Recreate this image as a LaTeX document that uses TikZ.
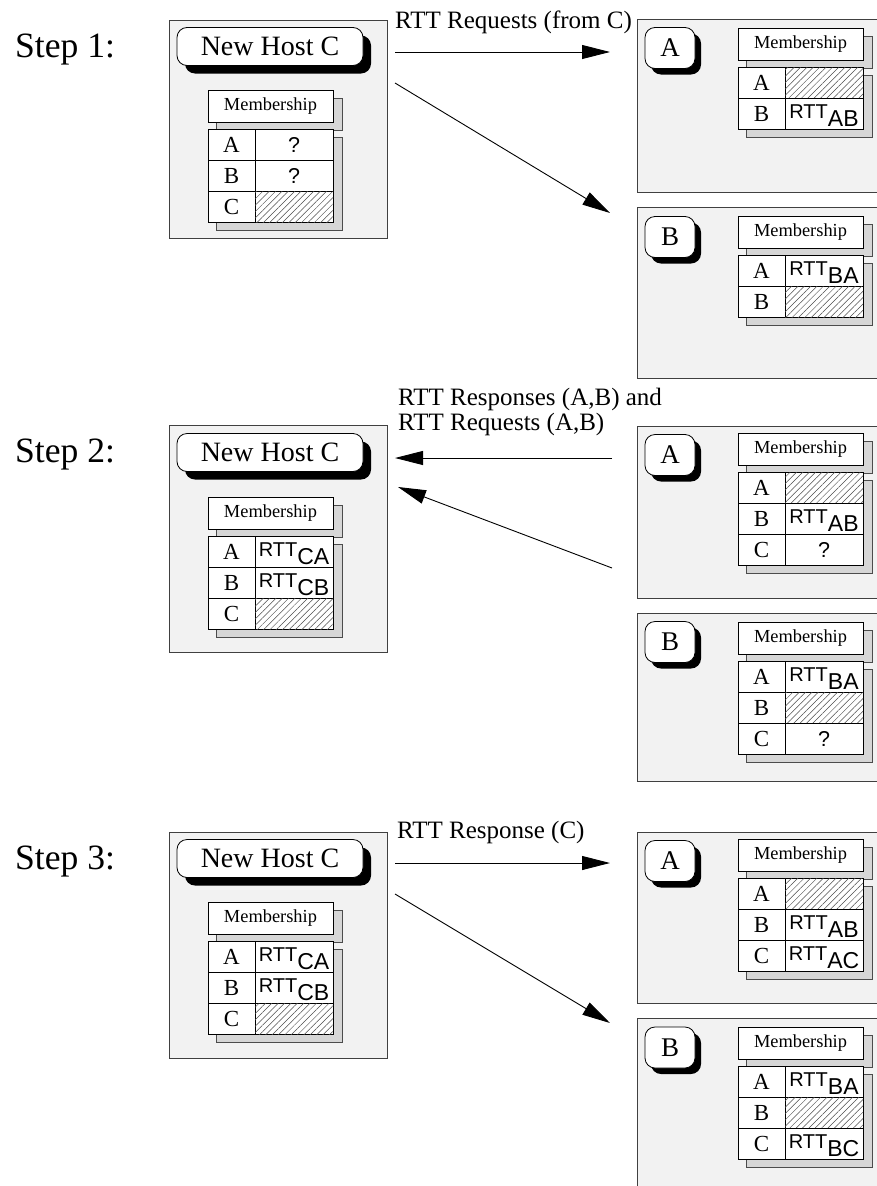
\documentclass[tikz,border=0pt]{standalone}
\usepackage{fontspec}
\setmainfont{Liberation Serif}
\newfontfamily\helv{Liberation Sans}
\usetikzlibrary{arrows.meta,patterns.meta,shadows}

\definecolor{panelfill}{gray}{0.95}
\definecolor{paneledge}{gray}{0.25}
\definecolor{shade}{gray}{0.84}
\definecolor{hatchcol}{gray}{0.3}

\newcommand\fsz[1]{\fontsize{#1}{#1}\selectfont}
% RTT with its (oversized) host-pair subscript
\newcommand\rtt[1]{\raisebox{-4.5pt}[10pt][10pt]{\helv\fsz{20}RTT\raisebox{-8pt}{\fsz{23}#1}}}

\tikzset{
  panel/.style={draw=paneledge, line width=0.8pt, fill=panelfill},
  shadowbox/.style={draw=black!70, line width=0.5pt, fill=shade},
  header/.style={draw, line width=0.7pt, fill=white, minimum width=125pt,
    minimum height=32pt, inner sep=0pt, font=\fsz{18.4}},
  cellL/.style={draw, line width=0.7pt, fill=white, minimum width=47pt,
    minimum height=31pt, inner sep=0pt, font=\fsz{23}},
  cellR/.style={draw, line width=0.7pt, fill=white, minimum width=78pt,
    minimum height=31pt, inner sep=0pt, font=\helv\fsz{21.5}},
  hatched/.style={fill=white, postaction={pattern={Lines[angle=45,distance=4.5pt,line width=0.5pt]},
    pattern color=hatchcol}},
  plain/.style={},
  hostlabel/.style={draw, line width=0.8pt, fill=white, rounded corners=10pt,
    minimum width=186pt, minimum height=38pt, inner sep=0pt, font=\fsz{28},
    drop shadow={shadow xshift=8pt, shadow yshift=-8pt, fill=black, opacity=1}},
  peerlabel/.style={draw, line width=0.8pt, fill=white, rounded corners=10pt,
    minimum width=50pt, minimum height=41pt, inner sep=0pt, font=\fsz{27},
    drop shadow={shadow xshift=6pt, shadow yshift=-6pt, fill=black, opacity=1}},
  msg/.style={line width=0.9pt, -{Triangle[length=28pt,width=14pt]}},
  steplabel/.style={anchor=base west, inner sep=0pt, font=\fsz{35.6}},
  msglabel/.style={anchor=base west, inner sep=0pt, font=\fsz{25}},
}

% membership table: name, x and y of header corner, number of rows, rows
\newcommand\memtable[5]{%
  \pgfmathsetmacro\mtTop{#3+39.5}%
  \pgfmathsetmacro\mtBot{#3+39.5+31*#4}%
  \draw[shadowbox] (#2+8,#3+8) rectangle (#2+134,#3+40);
  \draw[shadowbox] (#2+8,\mtTop+8) rectangle (#2+134,\mtBot+8);
  \node[header] (#1-head) at (#2+62.5,#3+16) {Membership};
  \foreach \k/\s/\v [count=\i] in {#5}{
    \node[cellL] (#1-\k) at (#2+23.5,\mtTop+31*\i-15.5) {\k};
    \node[cellR,\s] (#1-\k-val) at (#2+86,\mtTop+31*\i-15.5) {\v};
  }%
}

\begin{document}
\begin{tikzpicture}[x=1pt,y=-1pt]
\useasboundingbox (0,0) rectangle (877,1186);
\clip (0,0) rectangle (877,1186);

% ---------------- Step 1 ----------------
\node[steplabel] (step1) at (15,57) {Step 1:};
\draw[panel] (169,20) rectangle (387,238);
\node[hostlabel] (c1) at (270,46.5) {New Host C};
\memtable{c1t}{208}{90}{3}{A/plain/?,B/plain/?,C/hatched/{}}
\draw[panel] (637,19) rectangle (900,192);
\node[peerlabel] (a1) at (670,48) {A};
\memtable{a1t}{738}{28}{2}{A/hatched/{},B/plain/\rtt{AB}}
\draw[panel] (637,207) rectangle (900,378);
\node[peerlabel] (b1) at (670,237) {B};
\memtable{b1t}{738}{216}{2}{A/plain/\rtt{BA},B/hatched/{}}
\node[msglabel] (m1) at (395,28) {RTT Requests (from C)};
\coordinate (s1a) at (395,52);  \coordinate (e1a) at (610,52);
\coordinate (s1b) at (395,83);  \coordinate (e1b) at (610,213);
\draw[msg] (s1a) -- (e1a);
\draw[msg] (s1b) -- (e1b);

% ---------------- Step 2 ----------------
\node[steplabel] (step2) at (15,462) {Step 2:};
\draw[panel] (169,425) rectangle (387,652);
\node[hostlabel] (c2) at (270,452.5) {New Host C};
\memtable{c2t}{208}{497}{3}{A/plain/\rtt{CA},B/plain/\rtt{CB},C/hatched/{}}
\draw[panel] (637,426) rectangle (900,598);
\node[peerlabel] (a2) at (670,455) {A};
\memtable{a2t}{738}{433}{3}{A/hatched/{},B/plain/\rtt{AB},C/plain/?}
\draw[panel] (637,613) rectangle (900,781);
\node[peerlabel] (b2) at (670,642) {B};
\memtable{b2t}{738}{622}{3}{A/plain/\rtt{BA},B/hatched/{},C/plain/?}
\node[msglabel] (m2a) at (398,405) {RTT Responses (A,B) and};
\node[msglabel] (m2b) at (398,430) {RTT Requests (A,B)};
\coordinate (s2a) at (612,458);  \coordinate (e2a) at (395,458);
\coordinate (s2b) at (612,568);  \coordinate (e2b) at (398,487);
\draw[msg] (s2a) -- (e2a);
\draw[msg] (s2b) -- (e2b);

% ---------------- Step 3 ----------------
\node[steplabel] (step3) at (15,869) {Step 3:};
\draw[panel] (169,832) rectangle (387,1058);
\node[hostlabel] (c3) at (270,858.5) {New Host C};
\memtable{c3t}{208}{902}{3}{A/plain/\rtt{CA},B/plain/\rtt{CB},C/hatched/{}}
\draw[panel] (637,832) rectangle (900,1003);
\node[peerlabel] (a3) at (670,861) {A};
\memtable{a3t}{738}{839}{3}{A/hatched/{},B/plain/\rtt{AB},C/plain/\rtt{AC}}
\draw[panel] (637,1018) rectangle (900,1200);
\node[peerlabel] (b3) at (670,1047.5) {B};
\memtable{b3t}{738}{1027}{3}{A/plain/\rtt{BA},B/hatched/{},C/plain/\rtt{BC}}
\node[msglabel] (m3) at (397,838) {RTT Response (C)};
\coordinate (s3a) at (395,863);  \coordinate (e3a) at (610,863);
\coordinate (s3b) at (395,894);  \coordinate (e3b) at (610,1023);
\draw[msg] (s3a) -- (e3a);
\draw[msg] (s3b) -- (e3b);
\end{tikzpicture}
\end{document}
